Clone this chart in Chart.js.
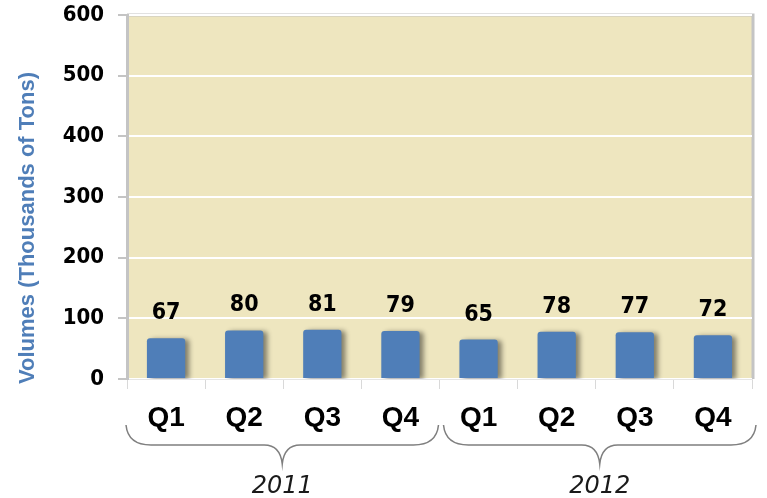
<!DOCTYPE html>
<html>
<head>
<meta charset="utf-8">
<script src="https://cdn.jsdelivr.net/npm/chart.js@4/dist/chart.umd.min.js"></script>
<style>
  html, body { margin: 0; padding: 0; background: #fff; }
</style>
</head>
<body>
<canvas id="grafico" width="767" height="498"></canvas>
<script>
const trimestres = ['Q1', 'Q2', 'Q3', 'Q4', 'Q1', 'Q2', 'Q3', 'Q4'];
const volumes = [67, 80, 81, 79, 65, 78, 77, 72];
const anos = ['2011', '2012'];
const trimestresPorAno = 4;
const yTicks = [0, 100, 200, 300, 400, 500, 600];
const tituloY = 'Volumes (Thousands of Tons)';

const fonteNum = '"DejaVu Sans Condensed", "DejaVu Sans", sans-serif';

// fundo amarelo, moldura, sombra das barras, rotulos, chaves dos anos
const decoracao = {
    id: 'decoracao',
    beforeDraw(chart) {
        const { ctx, chartArea: a } = chart;
        ctx.save();
        ctx.fillStyle = '#EEE6BF';
        ctx.fillRect(a.left, a.top, a.right - a.left, a.bottom - a.top);
        ctx.strokeStyle = '#C4C4C4';
        ctx.lineWidth = 3;
        ctx.beginPath();
        ctx.moveTo(a.left, a.top);
        ctx.lineTo(a.right + 1, a.top);
        ctx.lineTo(a.right + 1, a.bottom);
        ctx.stroke();
        ctx.restore();
    },
    beforeDatasetsDraw(chart) {
        const ctx = chart.ctx;
        ctx.save();
        ctx.shadowColor = 'rgba(0,0,0,0.45)';
        ctx.shadowBlur = 5;
        ctx.shadowOffsetX = 4;
        ctx.shadowOffsetY = 1;
    },
    afterDatasetsDraw(chart) {
        const ctx = chart.ctx;
        ctx.restore();
        const meta = chart.getDatasetMeta(0);
        ctx.save();
        ctx.fillStyle = '#000';
        ctx.font = 'bold 23px ' + fonteNum;
        ctx.textAlign = 'center';
        ctx.textBaseline = 'middle';
        meta.data.forEach((bar, i) => {
            ctx.fillText(String(volumes[i]), bar.x, bar.y - 25);
        });
        ctx.restore();
    },
    afterDraw(chart) {
        const { ctx } = chart;
        const x = chart.scales.x;
        const passo = x.getPixelForValue(1) - x.getPixelForValue(0);
        ctx.save();
        // titulo do eixo y
        ctx.translate(28, 228);
        ctx.rotate(-Math.PI / 2);
        ctx.fillStyle = '#4F7EB8';
        ctx.font = 'bold 22px "Liberation Sans", Arial, sans-serif';
        ctx.textAlign = 'center';
        ctx.textBaseline = 'middle';
        ctx.fillText(tituloY, 0, 0);
        ctx.restore();

        ctx.save();
        ctx.strokeStyle = '#7F7F7F';
        ctx.lineWidth = 1.5;
        anos.forEach((ano, k) => {
            const i0 = k * trimestresPorAno;
            const i1 = i0 + trimestresPorAno - 1;
            const esq = x.getPixelForValue(i0) - passo / 2 - 1 + (k ? 5 : 0);
            const dir = x.getPixelForValue(i1) + passo / 2 - 1 + (k ? 5 : 0);
            const meio = (esq + dir) / 2;
            const topo = 425, linha = 445, ponta = 464;
            ctx.beginPath();
            ctx.moveTo(esq, topo);
            ctx.quadraticCurveTo(esq + 2, linha, esq + 25, linha);
            ctx.lineTo(meio - 18, linha);
            ctx.quadraticCurveTo(meio - 2, linha, meio, ponta);
            ctx.quadraticCurveTo(meio + 2, linha, meio + 18, linha);
            ctx.lineTo(dir - 25, linha);
            ctx.quadraticCurveTo(dir - 2, linha, dir, topo);
            ctx.stroke();
            ctx.fillStyle = '#1a1a1a';
            ctx.font = 'italic 24px "DejaVu Sans", sans-serif';
            ctx.textAlign = 'center';
            ctx.textBaseline = 'middle';
            ctx.fillText(ano, meio, 487);
        });
        ctx.restore();
    }
};

new Chart(document.getElementById('grafico'), {
    type: 'bar',
    data: {
        labels: trimestres,
        datasets: [{
            data: volumes,
            backgroundColor: '#4F7EB8',
            borderRadius: { topLeft: 3, topRight: 3 },
            borderSkipped: 'bottom',
            categoryPercentage: 1,
            barPercentage: 0.49
        }]
    },
    options: {
        responsive: false,
        animation: false,
        events: [],
        layout: { padding: { top: 15, right: 15 } },
        plugins: { legend: { display: false }, tooltip: { enabled: false } },
        scales: {
            x: {
                grid: { drawOnChartArea: false, color: '#D9D9D9', tickLength: 10, offset: true },
                border: { color: '#E6E6E6', width: 1 },
                ticks: {
                    color: '#000',
                    padding: 12,
                    font: { family: '"Liberation Sans", Arial, sans-serif', size: 28, weight: 'bold' }
                },
                afterFit(scale) { scale.height = 119; }
            },
            y: {
                min: 0,
                max: 600,
                afterBuildTicks(scale) { scale.ticks = yTicks.map(v => ({ value: v })); },
                grid: { color: '#FFFFFF', lineWidth: 2, tickColor: '#C4C4C4', tickLength: 9 },
                border: { color: '#C4C4C4', width: 3 },
                ticks: {
                    color: '#000',
                    padding: 14,
                    font: { family: fonteNum, size: 22, weight: 'bold' }
                },
                afterFit(scale) {
                    scale.width = 127;
                    scale.paddingTop = 0;
                    scale.paddingBottom = 0;
                }
            }
        }
    },
    plugins: [decoracao]
});
</script>
</body>
</html>
